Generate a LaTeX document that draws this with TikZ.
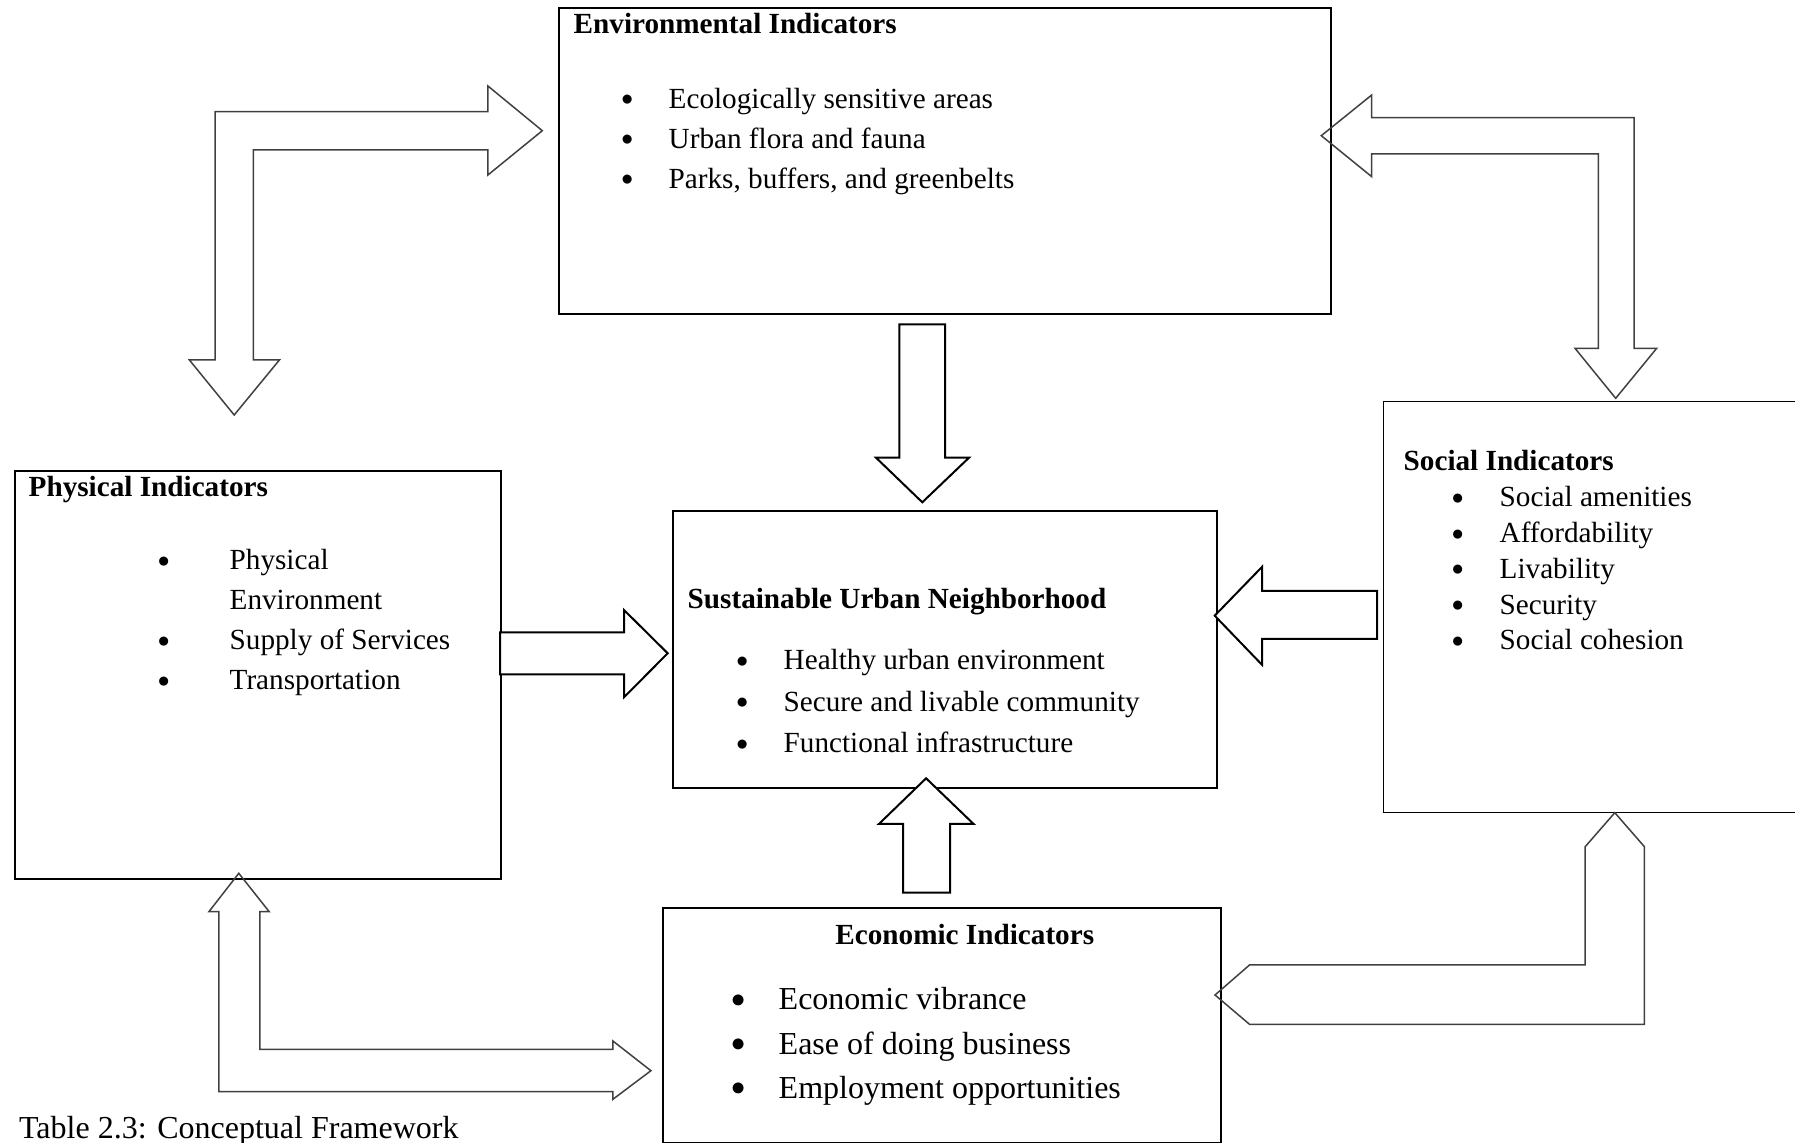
\documentclass[tikz,border=0pt]{standalone}
\usepackage{fontspec}
\setmainfont{Liberation Serif}
\newcommand{\bul}[1][17.8pt]{\llap{\raisebox{0.08em}{\scalebox{0.82}{$\bullet$}}\hspace{#1}}}
\tikzset{
  box/.style={draw=black, line width=1pt, anchor=north west, inner sep=0pt},
  heading/.style={anchor=base west, inner sep=0pt, font=\fontsize{14.6}{20}\selectfont\bfseries},
  points/.style={anchor=base west, inner sep=0pt, font=\fontsize{14.6}{20}\selectfont},
  hollow/.style={draw=black!75, line width=0.75pt},
  hollow'/.style={draw=black, line width=1pt, fill=white}
}
\begin{document}
\begin{tikzpicture}[x=0.5pt, y=-0.5pt]
  \useasboundingbox (0,0) rectangle (1795,1143);
  \clip (0,0) rectangle (1795,1143);

  % boxes
  \node (env) [box, minimum width=385.85pt, minimum height=152.7pt] at (558.3,7.3) {};
  \node (phys) [box, minimum width=243.25pt, minimum height=204.15pt] at (13.5,470) {};
  \node (sust) [box, minimum width=272.35pt, minimum height=138.35pt] at (671.7,510) {};
  \node (social) [box, line width=0.6pt, minimum width=215pt, minimum height=205.35pt] at (1383,401) {};
  \node (econ) [box, minimum width=279pt, minimum height=117.35pt] at (662,907.3) {};

  % texts
  \node (envtitle) [heading] at (573.3,33.3) {Environmental Indicators};
  \node (envlist) [points] at (668.3,108.3) {\begin{tabular}[t]{@{}l@{}}
    \bul Ecologically sensitive areas\\
    \bul Urban flora and fauna\\
    \bul Parks, buffers, and greenbelts
  \end{tabular}};

  \node (phystitle) [heading] at (28.3,496.7) {Physical Indicators};
  \node (physlist) [points] at (229.3,570) {\begin{tabular}[t]{@{}l@{}}
    \bul[30pt]Physical\\
    Environment\\
    \bul[30pt]Supply of Services\\
    \bul[30pt]Transportation
  \end{tabular}};

  \node (susttitle) [heading] at (687.3,608.3) {Sustainable Urban Neighborhood};
  \node (sustlist) [points, font=\fontsize{14.6}{20.6}\selectfont] at (783.3,670) {\begin{tabular}[t]{@{}l@{}}
    \bul Healthy urban environment\\
    \bul Secure and livable community\\
    \bul Functional infrastructure
  \end{tabular}};

  \node (socialtitle) [heading] at (1403.3,471) {Social Indicators};
  \node (sociallist) [points, font=\fontsize{14.6}{17.9}\selectfont] at (1499.3,506.7) {\begin{tabular}[t]{@{}l@{}}
    \bul[18pt]Social amenities\\
    \bul[18pt]Affordability\\
    \bul[18pt]Livability\\
    \bul[18pt]Security\\
    \bul[18pt]Social cohesion
  \end{tabular}};

  \node (econtitle) [heading] at (835,945) {Economic Indicators};
  \node (econlist) [points, font=\fontsize{16}{22.1}\selectfont] at (778.3,1010) {\begin{tabular}[t]{@{}l@{}}
    \bul[16.7pt]Economic vibrance\\
    \bul[16.7pt]Ease of doing business\\
    \bul[16.7pt]Employment opportunities
  \end{tabular}};

  \node (caption) [anchor=base west, inner sep=0pt, font=\fontsize{16}{20}\selectfont] at (18.75,1138) {Table 2.3: Conceptual Framework};

  % bent two-way arrows
  \draw[hollow] (234.2,415) -- (279.4,360) -- (253.3,360) -- (253.3,150) -- (487.9,150) -- (487.9,175) -- (542.3,130.7) -- (487.9,86) -- (487.9,111.7) -- (215,111.7) -- (215,360) -- (189.4,360) -- cycle;
  \draw[hollow] (1321.3,135.7) -- (1371.7,95) -- (1371.7,117.7) -- (1634,117.7) -- (1634,348.3) -- (1656.7,348.3) -- (1615.7,398.3) -- (1575,348.3) -- (1598.3,348.3) -- (1598.3,154) -- (1371.7,154) -- (1371.7,176.7) -- cycle;
  \draw[hollow] (238.8,873.3) -- (269.2,911.7) -- (259.8,911.7) -- (259.8,1049.3) -- (612.9,1049.3) -- (612.9,1041) -- (650.9,1070.7) -- (612.9,1099.3) -- (612.9,1091.7) -- (218.75,1091.7) -- (218.75,911.7) -- (208.9,911.7) -- cycle;
  \draw[hollow] (1614.8,812.7) -- (1644.4,846.7) -- (1644.4,1024.3) -- (1249.5,1024.3) -- (1215,995) -- (1249.5,965) -- (1585.2,965) -- (1585.2,846.7) -- cycle;

  % straight arrows into the centre
  \draw[hollow'] (899.3,324.3) -- (945,324.3) -- (945,457.7) -- (969,457.7) -- (922.3,502.3) -- (876,457.7) -- (899.3,457.7) -- cycle;
  \draw[hollow'] (500,632.3) -- (624,632.3) -- (624,610) -- (667.7,653.3) -- (624,697.3) -- (624,674.3) -- (500,674.3) -- cycle;
  \draw[hollow'] (1377.2,591) -- (1262.2,591) -- (1262.2,566.7) -- (1214.7,615.7) -- (1262.2,665) -- (1262.2,639) -- (1377.2,639) -- cycle;
  \draw[hollow'] (903,892.7) -- (903,824) -- (878.9,824) -- (926.1,778.3) -- (973.6,824) -- (950.2,824) -- (950.2,892.7) -- cycle;
\end{tikzpicture}
\end{document}
